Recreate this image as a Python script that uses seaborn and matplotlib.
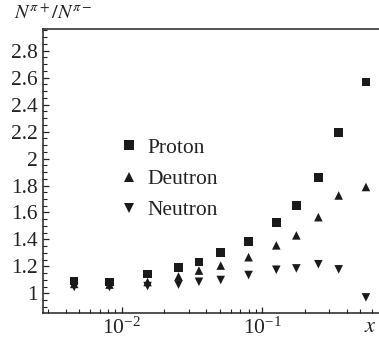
import matplotlib
matplotlib.use("Agg")
import matplotlib.pyplot as plt
import matplotlib.ticker as mticker
import seaborn as sns
import pandas as pd
import numpy as np

# ---- data ----
x_vals = [0.0046, 0.0082, 0.0153, 0.0254, 0.0355, 0.0507, 0.080, 0.126, 0.175, 0.251, 0.350, 0.547]
proton = [1.091, 1.084, 1.142, 1.193, 1.234, 1.304, 1.383, 1.527, 1.650, 1.861, 2.194, 2.568]
deutron = [1.070, 1.065, 1.084, 1.125, 1.169, 1.206, 1.268, 1.356, 1.430, 1.565, 1.726, 1.789]
neutron = [1.047, 1.047, 1.054, 1.065, 1.086, 1.099, 1.136, 1.175, 1.185, 1.216, 1.178, 0.970]
series_names = ["Proton", "Deutron", "Neutron"]

df = pd.concat([
    pd.DataFrame({"x": x_vals, "ratio": proton, "target": "Proton"}),
    pd.DataFrame({"x": x_vals, "ratio": deutron, "target": "Deutron"}),
    pd.DataFrame({"x": x_vals, "ratio": neutron, "target": "Neutron"}),
], ignore_index=True)

sns.set_style("ticks")
plt.rcParams["font.family"] = ["Liberation Serif", "DejaVu Serif"]
plt.rcParams["mathtext.fontset"] = "stix"

W, H = 379, 341
fig = plt.figure(figsize=(W / 100, H / 100), dpi=100)
ax = fig.add_axes([43 / W, (H - 313.3) / H, (381 - 43) / W, (313.3 - 29) / H])

ink = "#1a1a1a"
sns.scatterplot(data=df, x="x", y="ratio", hue="target", style="target",
                hue_order=series_names, style_order=series_names,
                palette={n: ink for n in series_names},
                markers={"Proton": "s", "Deutron": "^", "Neutron": "v"},
                s=38, linewidth=0, ax=ax, zorder=3)

ax.set_xscale("log")
ax.set_xlim(0.00276, 0.70)
ax.set_ylim(0.852, 2.961)
ax.yaxis.set_major_locator(mticker.MultipleLocator(0.2))
ax.yaxis.set_minor_locator(mticker.MultipleLocator(0.05))
ax.yaxis.set_major_formatter(mticker.FuncFormatter(lambda v, p: f"{v:g}"))
ax.xaxis.set_major_locator(mticker.LogLocator(base=10, numticks=10))
ax.xaxis.set_minor_locator(mticker.LogLocator(base=10, subs=np.arange(2, 10), numticks=20))

ax.set_xlabel("")
ax.set_ylabel("")
for side in ["left", "bottom", "top"]:
    ax.spines[side].set_visible(True)
    ax.spines[side].set_color("#222222")
    ax.spines[side].set_linewidth(1.1)
ax.spines["right"].set_visible(False)

ax.tick_params(axis="both", which="major", direction="in", length=4.5, width=0.9,
               labelsize=15.5, color="#222222", labelcolor="#222222")
ax.tick_params(axis="both", which="minor", direction="in", length=2.6, width=0.8,
               color="#222222")
ax.tick_params(axis="y", which="major", pad=4)
ax.tick_params(axis="x", which="major", pad=3)
ax.tick_params(top=False, right=False, which="both")

leg = ax.legend(loc="upper left", bbox_to_anchor=(110 / W, 1 - 127 / H),
                bbox_transform=fig.transFigure, frameon=False, fontsize=15.5,
                borderpad=0, handlelength=0.8, handletextpad=0.45,
                labelspacing=0.52, markerscale=1.1)
for t in leg.get_texts():
    t.set_color("#222222")

fig.text(14 / W, 1 - 14 / H, r"$N^{\pi+}/N^{\pi-}$", ha="left", va="center",
         fontsize=14.5, color="#222222")
fig.text(370 / W, 1 - 327 / H, r"$x$", ha="center", va="center",
         fontsize=16, color="#222222")

fig.savefig("out.png", dpi=100)
